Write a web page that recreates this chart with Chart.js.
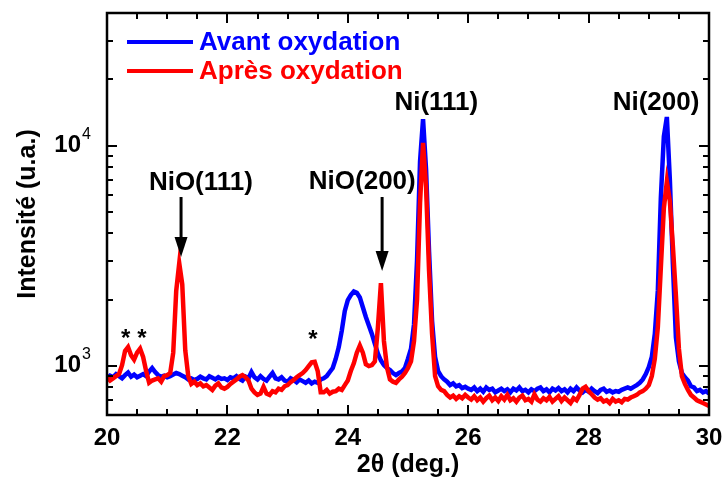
<!DOCTYPE html>
<html><head><meta charset="utf-8">
<script src="https://cdn.jsdelivr.net/npm/chart.js@4/dist/chart.umd.min.js"></script>
<style>html,body{margin:0;padding:0;background:#fff}</style>
</head><body>
<canvas id="c" width="726" height="480"></canvas>
<script>
// ---- data ----
const twoTheta = [
20,20.05,20.1,20.15,20.2,20.25,20.3,20.35,20.4,20.45,20.5,20.55,20.6,20.65,20.7,20.75,20.8,20.85,20.9,20.95,
21,21.05,21.1,21.15,21.2,21.25,21.3,21.35,21.4,21.45,21.5,21.55,21.6,21.65,21.7,21.75,21.8,21.85,21.9,21.95,
22,22.05,22.1,22.15,22.2,22.25,22.3,22.35,22.4,22.45,22.5,22.55,22.6,22.65,22.7,22.75,22.8,22.85,22.9,22.95,
23,23.05,23.1,23.15,23.2,23.25,23.3,23.35,23.4,23.45,23.5,23.55,23.6,23.65,23.7,23.75,23.8,23.85,23.9,23.95,
24,24.05,24.1,24.15,24.2,24.25,24.3,24.35,24.4,24.45,24.5,24.55,24.6,24.65,24.7,24.75,24.8,24.85,24.9,24.95,
25,25.05,25.1,25.15,25.2,25.25,25.3,25.35,25.4,25.45,25.5,25.55,25.6,25.65,25.7,25.75,25.8,25.85,25.9,25.95,
26,26.05,26.1,26.15,26.2,26.25,26.3,26.35,26.4,26.45,26.5,26.55,26.6,26.65,26.7,26.75,26.8,26.85,26.9,26.95,
27,27.05,27.1,27.15,27.2,27.25,27.3,27.35,27.4,27.45,27.5,27.55,27.6,27.65,27.7,27.75,27.8,27.85,27.9,27.95,
28,28.05,28.1,28.15,28.2,28.25,28.3,28.35,28.4,28.45,28.5,28.55,28.6,28.65,28.7,28.75,28.8,28.85,28.9,28.95,
29,29.05,29.1,29.15,29.2,29.25,29.3,29.35,29.4,29.45,29.5,29.55,29.6,29.65,29.7,29.75,29.8,29.85,29.9,29.95,
30];
const avantOxydation = [
880,905,890,920,900,880,910,935,895,915,890,905,920,900,945,980,940,910,895,905,
890,900,915,930,920,905,890,870,880,865,875,895,880,870,900,885,870,890,875,880,
865,890,880,900,875,860,895,880,940,890,870,900,875,860,895,930,880,870,890,860,
850,880,865,845,870,855,840,860,835,850,840,870,880,900,940,980,1080,1220,1450,1780,
1990,2100,2180,2150,2050,1850,1670,1530,1400,1260,1140,1060,1010,980,960,930,910,930,945,980,
1080,1200,1550,3000,8500,13200,7800,3300,1600,1100,950,900,870,850,820,835,810,820,795,805,
790,780,800,770,790,765,800,780,790,760,775,790,770,785,760,790,775,800,770,780,
760,785,770,790,800,770,785,760,790,775,795,770,785,760,790,770,800,775,760,780,
765,790,770,755,780,790,765,775,760,770,765,780,790,800,790,805,820,840,870,920,
990,1100,1400,2200,5800,11000,13500,7000,2900,1350,1050,930,890,860,810,800,770,780,760,770,
750];
const apresOxydation = [
890,860,880,900,920,1010,1170,1220,1120,1070,1150,1200,1100,950,840,860,870,880,850,900,
910,930,1150,2200,2930,2350,1180,900,830,850,820,835,810,820,800,780,815,835,800,790,
805,830,850,870,895,910,890,860,790,760,740,750,805,750,740,770,760,790,780,810,
820,845,865,890,910,930,960,1000,1040,1046,950,760,760,780,750,765,770,790,780,820,
860,950,1030,1150,1240,1150,1020,1000,1010,1050,1500,2380,1300,990,870,850,840,870,895,930,
980,1050,1300,2000,5500,10300,6500,2700,1400,900,810,780,770,740,720,735,710,730,715,740,
720,705,730,700,720,690,715,735,700,720,695,730,705,740,700,715,690,720,735,700,
710,690,745,705,690,715,700,725,690,710,730,695,720,700,680,715,700,740,790,805,
770,745,720,705,715,690,700,680,710,690,700,685,710,705,720,730,740,760,770,790,
820,900,1080,1500,2800,5200,6880,5600,3500,2100,1200,900,830,780,740,720,700,690,680,670,
660];
const xTickValues = [20, 22, 24, 26, 28, 30];
const yTickValues = [1000, 10000];
const yTickBase = ['10', '10'];
const yTickExp = ['3', '4'];
const peakLabels = ['NiO(111)', 'NiO(200)', 'Ni(111)', 'Ni(200)'];
const peakLabelX = [21.56, 24.24, 25.47, 29.12];
const peakLabelY = [6760, 6840, 15600, 15700];
const arrowX = [21.23, 24.57];
const arrowFromY = [5850, 5850];
const arrowToY = [3125, 2700];
const asteriskX = [20.31, 20.58, 23.42];
const asteriskY = [1412, 1412, 1397];

// ---- styles ----
const FONT = "'Liberation Sans', Arial, sans-serif";
Chart.defaults.font.family = FONT;
Chart.defaults.color = '#000';

const framePlugin = {
  id: 'frame',
  afterDraw(chart) {
    const {ctx, chartArea: {left, right, top, bottom}, scales: {x, y}} = chart;
    ctx.save();
    ctx.strokeStyle = '#000';
    ctx.fillStyle = '#000';
    const seg = (x1, y1, x2, y2) => { ctx.beginPath(); ctx.moveTo(x1, y1); ctx.lineTo(x2, y2); ctx.stroke(); };
    ctx.lineWidth = 2;
    for (let v = 20; v <= 30.0001; v += 0.5) {
      const px = Math.round(x.getPixelForValue(v));
      const major = Math.abs(v / 2 - Math.round(v / 2)) < 1e-6;
      const L = major ? 10 : 6;
      seg(px, bottom, px, bottom - L);
      seg(px, top, px, top + L);
    }
    [100, 1000, 10000].forEach(dec => {
      for (let m = 1; m <= 9; m++) {
        const v = m * dec;
        if (v <= 600 || v >= 40000) continue;
        const py = Math.round(y.getPixelForValue(v));
        const L = m === 1 ? 10 : 6;
        seg(left, py, left + L, py);
        seg(right, py, right - L, py);
      }
    });
    ctx.lineWidth = 2.5;
    ctx.strokeRect(left, top, right - left, bottom - top);
    // y tick labels (10 with superscript exponent)
    ctx.textBaseline = 'alphabetic';
    yTickValues.forEach((v, i) => {
      const py = y.getPixelForValue(v);
      ctx.font = "bold 24px " + FONT;
      ctx.textAlign = 'right';
      ctx.fillText(yTickBase[i], left - 26, py + 6);
      ctx.font = "16px " + FONT;
      ctx.textAlign = 'left';
      ctx.fillText(yTickExp[i], left - 25, py - 7);
    });
    ctx.restore();
  }
};

const annotatePlugin = {
  id: 'annotate',
  afterDatasetsDraw(chart) {
    const {ctx, scales: {x, y}} = chart;
    ctx.save();
    ctx.fillStyle = '#000';
    ctx.strokeStyle = '#000';
    ctx.font = "bold 26px " + FONT;
    ctx.textAlign = 'center';
    ctx.textBaseline = 'middle';
    peakLabels.forEach((t, i) => {
      ctx.fillText(t, x.getPixelForValue(peakLabelX[i]), y.getPixelForValue(peakLabelY[i]));
    });
    ctx.lineWidth = 3;
    arrowX.forEach((ax, i) => {
      const px = x.getPixelForValue(ax);
      const y1 = y.getPixelForValue(arrowFromY[i]);
      const y2 = y.getPixelForValue(arrowToY[i]);
      ctx.beginPath(); ctx.moveTo(px, y1); ctx.lineTo(px, y2 - 18); ctx.stroke();
      ctx.beginPath(); ctx.moveTo(px - 6.5, y2 - 20); ctx.lineTo(px + 6.5, y2 - 20); ctx.lineTo(px, y2); ctx.closePath(); ctx.fill();
    });
    ctx.font = "bold 24px " + FONT;
    ctx.textBaseline = 'alphabetic';
    asteriskX.forEach((ax, i) => {
      ctx.fillText('*', x.getPixelForValue(ax), y.getPixelForValue(asteriskY[i]) + 13);
    });
    ctx.restore();
  }
};

const legendPlugin = {
  id: 'legendInside',
  afterDraw(chart) {
    const {ctx, chartArea: {left, top}} = chart;
    ctx.save();
    ctx.font = "bold 26px " + FONT;
    ctx.textAlign = 'left';
    ctx.textBaseline = 'middle';
    chart.data.datasets.forEach((ds, i) => {
      const yy = top + 29 + i * 29;
      ctx.strokeStyle = ds.borderColor;
      ctx.lineWidth = 4;
      ctx.beginPath(); ctx.moveTo(left + 20, yy); ctx.lineTo(left + 86, yy); ctx.stroke();
      ctx.fillStyle = ds.borderColor;
      ctx.fillText(ds.label, left + 92, yy + 1);
    });
    ctx.restore();
  }
};

new Chart(document.getElementById('c'), {
  type: 'line',
  data: {
    datasets: [
      { label: 'Avant oxydation', data: twoTheta.map((t, i) => ({x: t, y: avantOxydation[i]})),
        borderColor: '#0000ff', borderWidth: 4.5, pointRadius: 0, tension: 0, fill: false, order: 1 },
      { label: 'Après oxydation', data: twoTheta.map((t, i) => ({x: t, y: apresOxydation[i]})),
        borderColor: '#ff0000', borderWidth: 4.5, pointRadius: 0, tension: 0, fill: false, order: 0 }
    ]
  },
  options: {
    responsive: false,
    animation: false,
    events: [],
    layout: { padding: { top: 13, right: 17, left: 0, bottom: 0 } },
    plugins: { legend: { display: false }, tooltip: { enabled: false } },
    scales: {
      x: {
        type: 'linear', min: 20, max: 30,
        afterBuildTicks: s => { s.ticks = xTickValues.map(v => ({value: v})); },
        afterFit: s => { s.height = 65; s.paddingLeft = 0; s.paddingRight = 0; },
        grid: { display: false },
        border: { display: false },
        ticks: { font: { size: 24, weight: 'bold' }, color: '#000', padding: 1, maxRotation: 0, autoSkip: false },
        title: { display: true, text: '2\u03B8 (deg.)', font: { size: 25, weight: 'bold' }, color: '#000', padding: { top: 3, bottom: 0 } }
      },
      y: {
        type: 'logarithmic', min: 600, max: 40000,
        afterBuildTicks: s => { s.ticks = yTickValues.map(v => ({value: v, major: true})); },
        afterFit: s => { s.width = 107; s.paddingTop = 0; s.paddingBottom = 0; },
        grid: { display: false },
        border: { display: false },
        ticks: { display: false },
        title: { display: true, text: 'Intensité (u.a.)', font: { size: 25, weight: 'bold' }, color: '#000', padding: { top: 13, bottom: 0 } }
      }
    }
  },
  plugins: [annotatePlugin, framePlugin, legendPlugin]
});
</script>
</body></html>
